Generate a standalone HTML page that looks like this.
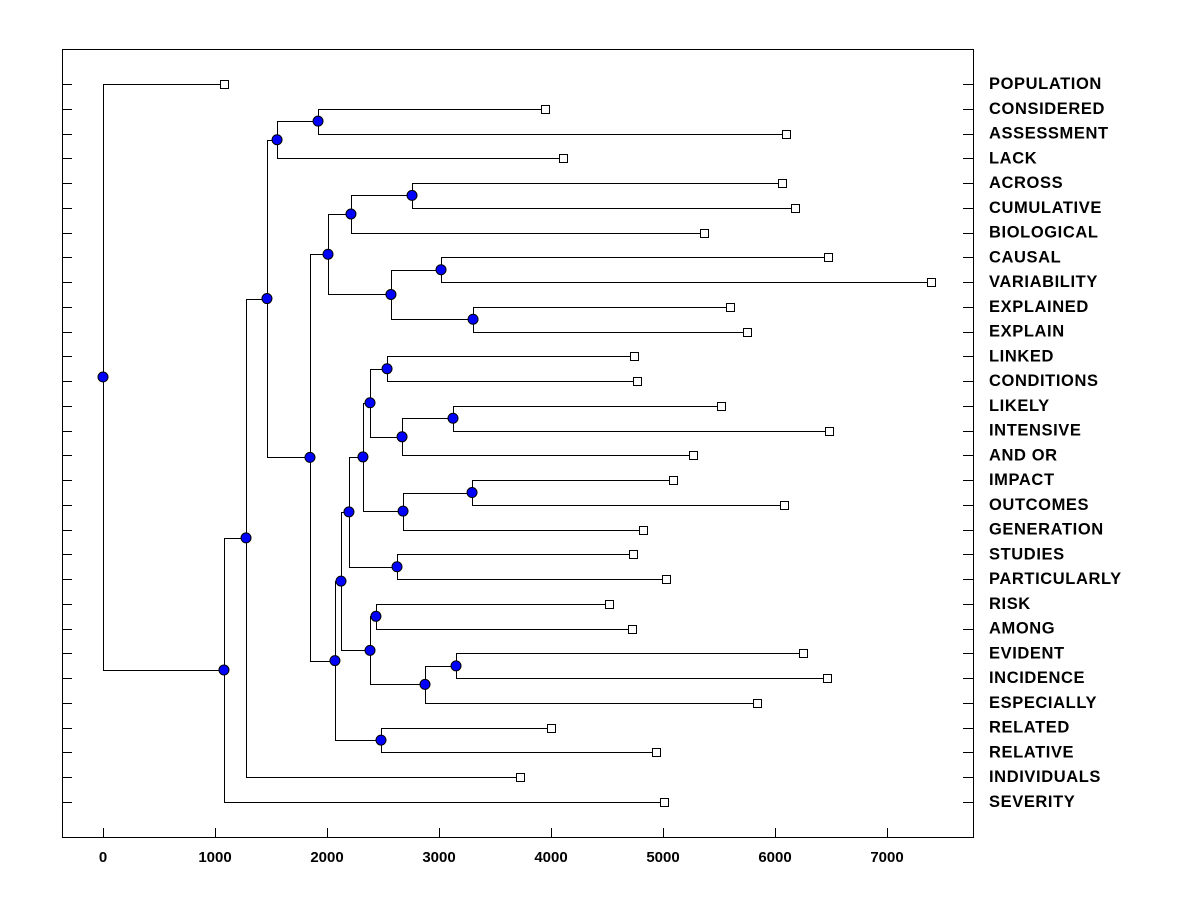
<!DOCTYPE html>
<html><head><meta charset="utf-8"><style>
html,body{margin:0;padding:0;background:#fff;width:1200px;height:900px;overflow:hidden}
svg text{font-family:"Liberation Sans",Arial,sans-serif;font-weight:bold}
</style></head><body>
<svg id="chart" width="1200" height="900" viewBox="0 0 1200 900" xmlns="http://www.w3.org/2000/svg">
<rect x="0" y="0" width="1200" height="900" fill="#fff"/>
<g id="g"></g>
</svg>
<script>
const leafNames=["POPULATION","CONSIDERED","ASSESSMENT","LACK","ACROSS","CUMULATIVE","BIOLOGICAL","CAUSAL","VARIABILITY","EXPLAINED","EXPLAIN","LINKED","CONDITIONS","LIKELY","INTENSIVE","AND OR","IMPACT","OUTCOMES","GENERATION","STUDIES","PARTICULARLY","RISK","AMONG","EVIDENT","INCIDENCE","ESPECIALLY","RELATED","RELATIVE","INDIVIDUALS","SEVERITY"];
const leafValues=[1080,3946,6098,4107,6063,6179,5366,6473,7393,5598,5750,4741,4768,5518,6482,5268,5089,6080,4821,4732,5027,4518,4723,6250,6464,5839,4000,4938,3723,5009];
const nodeHeights=[1920,1554,2759,2214,3018,3304,2571,2009,2536,3125,2670,2384,3295,2679,2321,2625,2196,2437,3152,2875,2384,2125,2482,2071,1848,1464,1277,1080,0];
const nodeLeft=["L1","N0","L4","N2","L7","L9","N4","N3","L11","L13","N9","N8","L16","N12","N11","L19","N14","L21","L23","N18","N17","N16","L26","N21","N7","N1","N25","N26","L0"];
const nodeRight=["L2","L3","L5","L6","L8","L10","N5","N6","L12","L14","L15","N10","L17","L18","N13","L20","N15","L22","L24","L25","N19","N20","L27","N22","N23","N24","L28","L29","N27"];
const xTicks=[0,1000,2000,3000,4000,5000,6000,7000];

const X=v=>103+v*0.112;
const NS="http://www.w3.org/2000/svg";
const g=document.getElementById('g');
function mk(t,a){const e=document.createElementNS(NS,t);for(const k in a)e.setAttribute(k,a[k]);g.appendChild(e);return e;}
const step=(802-84)/(leafNames.length-1);
const ly=i=>84+i*step;
function pos(id){
  if(id[0]==='L'){const i=+id.slice(1);return {x:X(leafValues[i]),y:ly(i)};}
  const n=+id.slice(1);const a=pos(nodeLeft[n]),b=pos(nodeRight[n]);
  return {x:X(nodeHeights[n]),y:(a.y+b.y)/2};
}
let f=mk('rect',{x:62.5,y:49.5,width:911,height:788,fill:'none',stroke:'#000','stroke-width':1});


xTicks.forEach(t=>{
  const x=Math.round(X(t))+0.5;
  const l=mk('line',{x1:x,y1:828,x2:x,y2:837,stroke:'#000'});
  
  
  const tx=mk('text',{x:X(t),y:862,'text-anchor':'middle','font-size':15,fill:'#000'});
  tx.textContent=t;
  
  
});
leafNames.forEach((n,i)=>{
  const y=Math.round(ly(i))+0.5;
  const a=mk('line',{x1:62,y1:y,x2:72,y2:y,stroke:'#000'});
  
  
  const b=mk('line',{x1:963,y1:y,x2:973,y2:y,stroke:'#000'});
  
  
  const t=mk('text',{x:989,y:ly(i)+5,'font-size':16.5,'letter-spacing':0.6,fill:'#000'});
  t.textContent=n;
  
  
});
const dots=[];
nodeHeights.forEach((h,n)=>{
  const p=pos('N'+n),a=pos(nodeLeft[n]),b=pos(nodeRight[n]);
  const px=Math.round(p.x)+0.5;
  const path=mk('path',{d:`M${Math.round(a.x)+0.5},${Math.round(a.y)+0.5}H${px}V${Math.round(b.y)+0.5}H${Math.round(b.x)+0.5}`,fill:'none',stroke:'#000','stroke-width':1});
  
  
  dots.push(p);
});
leafNames.forEach((n,i)=>{
  const r=mk('rect',{x:Math.round(X(leafValues[i]))-3.5,y:Math.round(ly(i))-3.5,width:8,height:8,fill:'#fff',stroke:'#000'});
  
  
});
dots.forEach(p=>{
  const c=mk('circle',{cx:p.x,cy:p.y,r:5,fill:'#0000ff',stroke:'#000','stroke-width':1});
  
  
});
</script>
</body></html>
